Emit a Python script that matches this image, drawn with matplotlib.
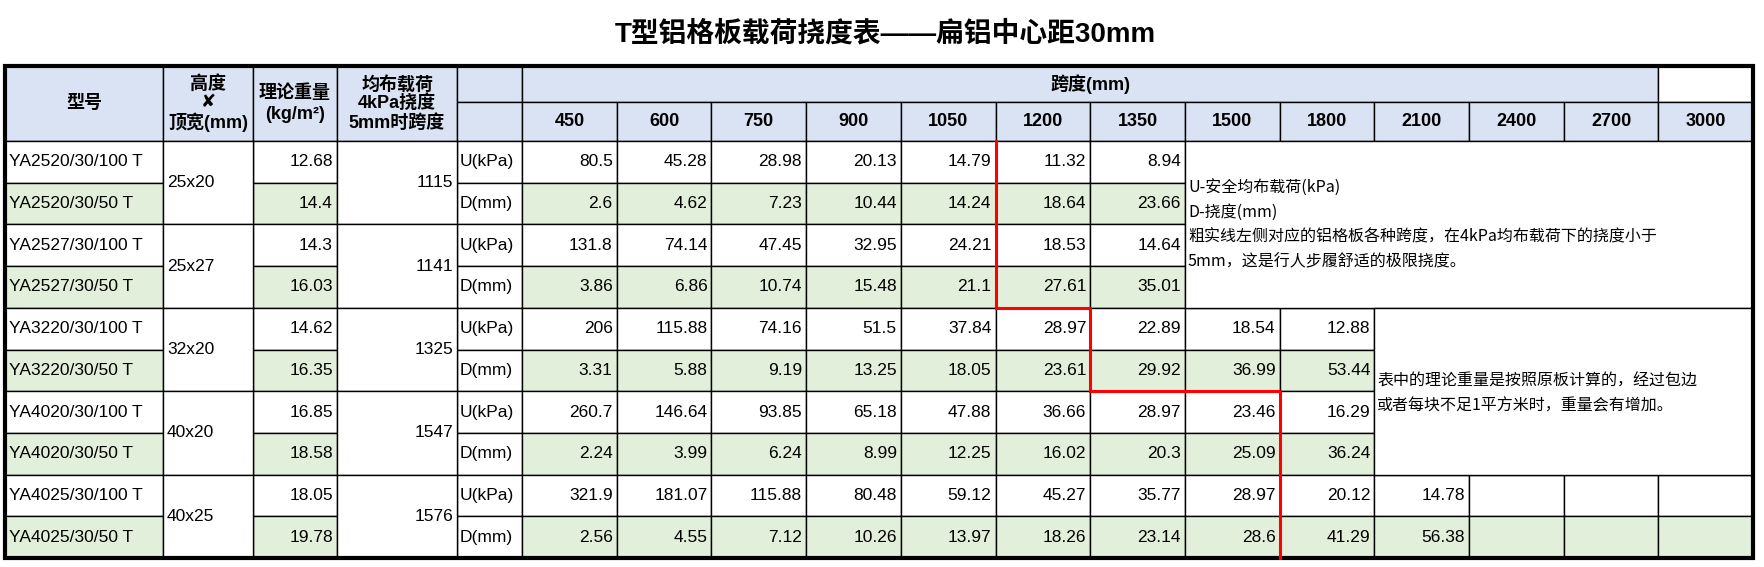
import matplotlib.pyplot as plt
from matplotlib.patches import Rectangle

plt.rcParams['font.family'] = ['Liberation Sans', 'Noto Sans CJK SC', 'DejaVu Sans']

title = "T型铝格板载荷挠度表——扁铝中心距30mm"
spans = ["450", "600", "750", "900", "1050", "1200", "1350", "1500", "1800",
         "2100", "2400", "2700", "3000"]
models = ["YA2520/30/100 T", "YA2520/30/50 T", "YA2527/30/100 T", "YA2527/30/50 T",
          "YA3220/30/100 T", "YA3220/30/50 T", "YA4020/30/100 T", "YA4020/30/50 T",
          "YA4025/30/100 T", "YA4025/30/50 T"]
weights = ["12.68", "14.4", "14.3", "16.03", "14.62", "16.35", "16.85", "18.58",
           "18.05", "19.78"]
sizes = ["25x20", "25x27", "32x20", "40x20", "40x25"]
span_5mm = ["1115", "1141", "1325", "1547", "1576"]
row_kind = ["U(kPa)", "D(mm)"]
values = [
    ["80.5", "45.28", "28.98", "20.13", "14.79", "11.32", "8.94"],
    ["2.6", "4.62", "7.23", "10.44", "14.24", "18.64", "23.66"],
    ["131.8", "74.14", "47.45", "32.95", "24.21", "18.53", "14.64"],
    ["3.86", "6.86", "10.74", "15.48", "21.1", "27.61", "35.01"],
    ["206", "115.88", "74.16", "51.5", "37.84", "28.97", "22.89", "18.54", "12.88"],
    ["3.31", "5.88", "9.19", "13.25", "18.05", "23.61", "29.92", "36.99", "53.44"],
    ["260.7", "146.64", "93.85", "65.18", "47.88", "36.66", "28.97", "23.46", "16.29"],
    ["2.24", "3.99", "6.24", "8.99", "12.25", "16.02", "20.3", "25.09", "36.24"],
    ["321.9", "181.07", "115.88", "80.48", "59.12", "45.27", "35.77", "28.97", "20.12", "14.78"],
    ["2.56", "4.55", "7.12", "10.26", "13.97", "18.26", "23.14", "28.6", "41.29", "56.38"],
]
note1 = ["U-安全均布载荷(kPa)", "D-挠度(mm)",
         "粗实线左侧对应的铝格板各种跨度，在4kPa均布载荷下的挠度小于",
         "5mm，这是行人步履舒适的极限挠度。"]
note2 = ["表中的理论重量是按照原板计算的，经过包边", "或者每块不足1平方米时，重量会有增加。"]

HEAD = "#dae3f3"
GREEN = "#e2efda"

# layout in pixels
col_x = [5, 163, 253, 337, 457, 522]
col_w = 94.7
for i in range(len(spans)):
    col_x.append(522 + col_w * (i + 1))
y_top, y_mid, y_head = 66, 102, 141
row_h = (558 - y_head) / len(models)
row_y = [y_head + row_h * i for i in range(len(models) + 1)]
x_right = col_x[-1]

fig = plt.figure(figsize=(17.64, 5.67), dpi=100)
ax = fig.add_axes([0, 0, 1, 1])
ax.set_xlim(0, 1764)
ax.set_ylim(567, 0)
ax.axis("off")


def cell(x0, y0, x1, y1, fc="white", lw=1.0):
    ax.add_patch(Rectangle((x0, y0), x1 - x0, y1 - y0, facecolor=fc,
                           edgecolor="black", lw=lw, zorder=1))


ax.text(885, 34, title, ha="center", va="center", fontsize=20, fontweight="bold")

# header
hfont = dict(fontsize=13, fontweight="bold", ha="center", va="center")
cell(col_x[0], y_top, col_x[1], y_head, HEAD)
ax.text((col_x[0] + col_x[1]) / 2, (y_top + y_head) / 2, "型号", **hfont)
cell(col_x[1], y_top, col_x[2], y_head, HEAD)
ax.text((col_x[1] + col_x[2]) / 2, (y_top + y_head) / 2, "高度\n✘\n顶宽(mm)",
        linespacing=1.1, **hfont)
cell(col_x[2], y_top, col_x[3], y_head, HEAD)
ax.text((col_x[2] + col_x[3]) / 2, (y_top + y_head) / 2, "理论重量\n(kg/m²)",
        linespacing=1.3, **hfont)
cell(col_x[3], y_top, col_x[4], y_head, HEAD)
ax.text((col_x[3] + col_x[4]) / 2, (y_top + y_head) / 2, "均布载荷\n4kPa挠度\n5mm时跨度",
        linespacing=1.1, **hfont)
cell(col_x[4], y_top, col_x[5], y_mid, HEAD)
cell(col_x[4], y_mid, col_x[5], y_head, HEAD)
cell(col_x[5], y_top, col_x[-2], y_mid, HEAD)
ax.text((col_x[5] + col_x[-2]) / 2, (y_top + y_mid) / 2, "跨度(mm)", **hfont)
cell(col_x[-2], y_top, x_right, y_mid, "white")
for i, s in enumerate(spans):
    cell(col_x[5 + i], y_mid, col_x[6 + i], y_head, HEAD)
    ax.text((col_x[5 + i] + col_x[6 + i]) / 2, (y_mid + y_head) / 2, s, **hfont)

# body
dfont = dict(fontsize=12.5, va="center")
for r, m in enumerate(models):
    y0, y1 = row_y[r], row_y[r + 1]
    yc = (y0 + y1) / 2
    fc = GREEN if r % 2 else "white"
    cell(col_x[0], y0, col_x[1], y1, fc)
    ax.text(col_x[0] + 4, yc, m, ha="left", **dfont)
    cell(col_x[2], y0, col_x[3], y1, fc)
    ax.text(col_x[3] - 4, yc, weights[r], ha="right", **dfont)
    cell(col_x[4], y0, col_x[5], y1, "white")
    ax.text(col_x[4] + 3, yc, row_kind[r % 2], ha="left", **dfont)
    n_cols = len(spans) if r >= 8 else len(values[r])
    for c in range(n_cols):
        cell(col_x[5 + c], y0, col_x[6 + c], y1, fc)
        if c < len(values[r]):
            ax.text(col_x[6 + c] - 4, yc, values[r][c], ha="right", **dfont)

for g in range(len(sizes)):
    y0, y1 = row_y[2 * g], row_y[2 * g + 2]
    yc = (y0 + y1) / 2
    cell(col_x[1], y0, col_x[2], y1)
    ax.text(col_x[1] + 4, yc, sizes[g], ha="left", **dfont)
    cell(col_x[3], y0, col_x[4], y1)
    ax.text(col_x[4] - 4, yc, span_5mm[g], ha="right", **dfont)

# notes
cell(col_x[12], row_y[0], x_right, row_y[4])
for i, line in enumerate(note1):
    ax.text(col_x[12] + 3, 188 + 24.5 * i, line, ha="left", va="center",
            fontsize=11.5, family=["Noto Sans CJK SC", "DejaVu Sans"])
cell(col_x[14], row_y[4], x_right, row_y[8])
for i, line in enumerate(note2):
    ax.text(col_x[14] + 3, 381 + 25 * i, line, ha="left", va="center",
            fontsize=11.5, family=["Noto Sans CJK SC", "DejaVu Sans"])

# outer thick border
ax.add_patch(Rectangle((col_x[0], y_top), x_right - col_x[0], row_y[-1] - y_top,
                       facecolor="none", edgecolor="black", lw=3, zorder=3))

# red 5mm limit line
rx = [col_x[10], col_x[10], col_x[11], col_x[11], col_x[13], col_x[13]]
ry = [row_y[0], row_y[4], row_y[4], row_y[6], row_y[6], row_y[-1]]
ax.plot(rx, ry, color="#ff0000", lw=2.2, zorder=4, solid_joinstyle="miter")

fig.savefig("out.png", dpi=100)
